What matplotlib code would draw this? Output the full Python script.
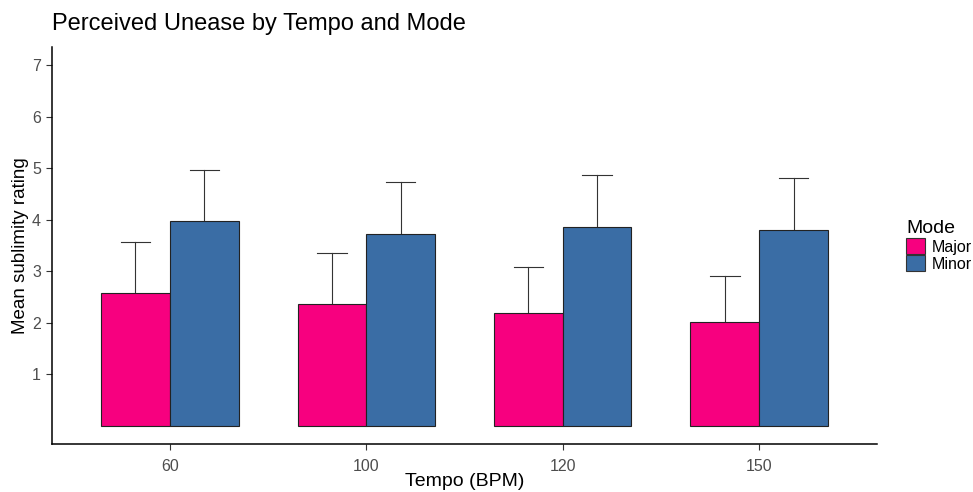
import numpy as np
import matplotlib
matplotlib.use("Agg")
import matplotlib.pyplot as plt
from matplotlib.patches import Patch

plt.rcParams['font.family'] = ['Liberation Sans', 'DejaVu Sans']

# data
tempos = ["60", "100", "120", "150"]
modes = ["Major", "Minor"]
major_mean = [2.57, 2.37, 2.20, 2.01]
minor_mean = [3.97, 3.73, 3.86, 3.80]
major_err = [1.00, 0.99, 0.89, 0.90]
minor_err = [1.00, 1.00, 1.01, 1.00]

colors = {"Major": "#F7007F", "Minor": "#3A6DA5"}

fig = plt.figure(figsize=(9.73, 4.92), dpi=100)
ax = fig.add_axes([52 / 973, 1 - 444 / 492, (877 - 52) / 973, (444 - 47) / 492])

x = np.arange(1, len(tempos) + 1)
w = 0.35
for off, mode, means, errs in [(-w / 2, "Major", major_mean, major_err),
                               (w / 2, "Minor", minor_mean, minor_err)]:
    xs = x + off
    ax.bar(xs, means, width=w, color=colors[mode], edgecolor="#222222",
           linewidth=0.8, zorder=2)
    # upper-only error bars, like ggplot geom_errorbar(ymin=mean)
    for xi, m, e in zip(xs, means, errs):
        ax.plot([xi, xi], [m, m + e], color="#333333", lw=0.8, zorder=1)
        ax.plot([xi - 0.075, xi + 0.075], [m + e, m + e], color="#333333", lw=0.8, zorder=1)

ax.set_xlim(0.4, len(tempos) + 0.6)
ax.set_ylim(-0.35, 7.35)
ax.set_xticks(x)
ax.set_xticklabels(tempos)
ax.set_yticks(range(1, 8))

for s in ["top", "right"]:
    ax.spines[s].set_visible(False)
for s in ["left", "bottom"]:
    ax.spines[s].set_linewidth(1.1)
    ax.spines[s].set_color("black")
ax.tick_params(axis="both", length=4, width=0.8, color="#333333",
               labelcolor="#4D4D4D", labelsize=11.5)
ax.tick_params(axis="x", pad=7)
ax.tick_params(axis="y", pad=4)

# axis titles placed in figure coords to keep them inside the canvas
fig.text((52 + 877) / 2 / 973, 1 - 481 / 492, "Tempo (BPM)",
         fontsize=14, ha="center", va="center")
ax.set_ylabel("Mean sublimity rating", fontsize=13.5, labelpad=2)
fig.text(52 / 973, 1 - 24 / 492, "Perceived Unease by Tempo and Mode",
         fontsize=17, ha="left", va="center")

handles = [Patch(facecolor=colors[m], edgecolor="#333333", linewidth=0.8, label=m)
           for m in modes]
leg = fig.legend(handles=handles, title="Mode", loc="upper left",
                 bbox_to_anchor=(900 / 973, 1 - 214 / 492), frameon=False,
                 fontsize=11.5, title_fontsize=14, handlelength=1.15,
                 handleheight=1.15, handletextpad=0.45, labelspacing=0.05,
                 borderaxespad=0)
leg._legend_box.align = "left"

fig.savefig("out.png", dpi=100)
